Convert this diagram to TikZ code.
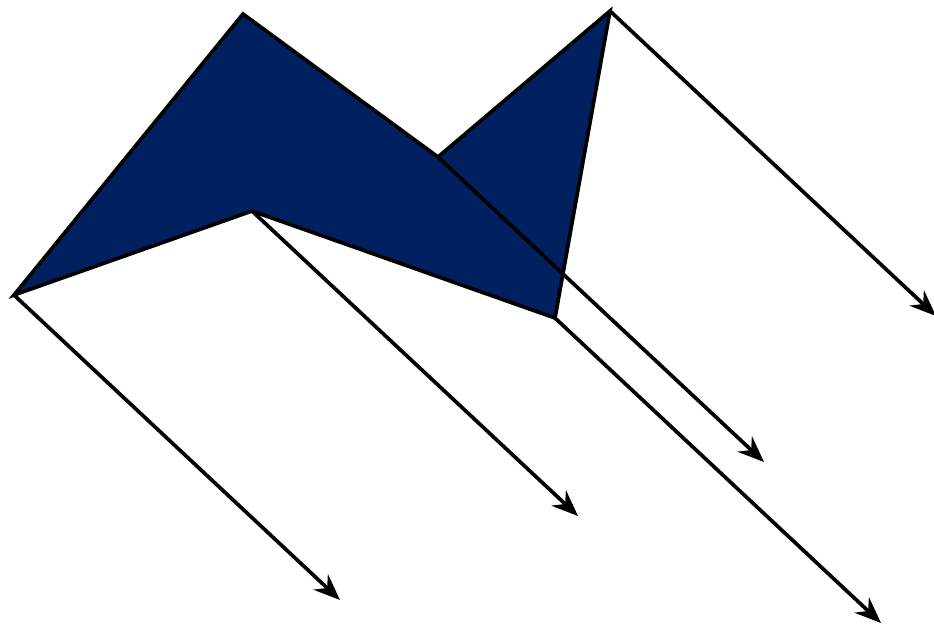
\documentclass[tikz,border=0pt]{standalone}
\usepackage{tikz}
\usetikzlibrary{arrows.meta}
\definecolor{facenavy}{HTML}{002060}

\begin{document}
\begin{tikzpicture}[>={Stealth[length=15pt,width=12pt,inset=5pt]},
  edge/.style={line width=2.1pt, line join=miter},
  proj/.style={->, line width=2.1pt}]

      \useasboundingbox (0,0) rectangle (18.68,-12.46);

      % Vertices of the face
      \coordinate (A) at (0.28,-5.90);
      \coordinate (B) at (4.86,-0.28);
      \coordinate (P) at (8.76,-3.14);
      \coordinate (Q) at (12.20,-0.22);
      \coordinate (D) at (11.10,-6.36);
      \coordinate (E) at (5.04,-4.22);

      % Filled face
      \filldraw[edge, fill=facenavy, draw=black]
        (A) -- (B) -- (P) -- (Q) -- (D) -- (E) -- cycle;

      % Projection rays
      \foreach \v in {A,E,D,Q,P}
      {
        \path (\v) ++(6.52,-6.10) coordinate (\v-end);
        \draw[proj] (\v) -- (\v-end);
      }

\end{tikzpicture}
\end{document}
